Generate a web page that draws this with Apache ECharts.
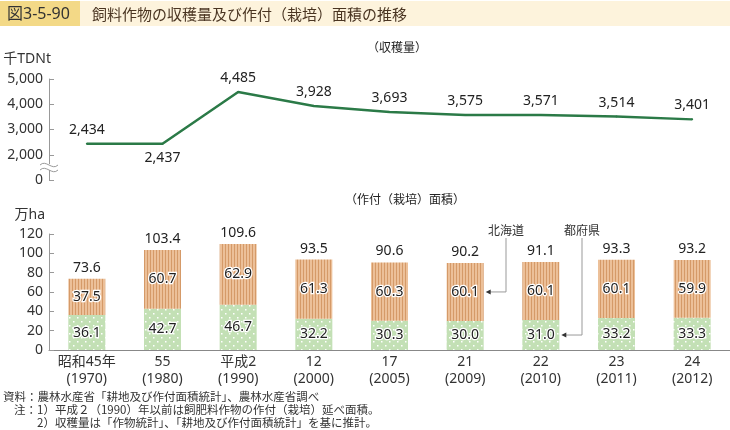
<!DOCTYPE html>
<html><head><meta charset="utf-8">
<script src="https://cdn.jsdelivr.net/npm/echarts@6/dist/echarts.min.js"></script>
<style>html,body{margin:0;padding:0;background:#fff}#c{width:730px;height:430px}</style>
</head><body><div id="c"></div>
<script>
const categories = ['昭和45年\n(1970)', '55\n(1980)', '平成2\n(1990)', '12\n(2000)', '17\n(2005)', '21\n(2009)', '22\n(2010)', '23\n(2011)', '24\n(2012)'];
const harvest = [2434, 2437, 4485, 3928, 3693, 3575, 3571, 3514, 3401];
const prefectures = [36.1, 42.7, 46.7, 32.2, 30.3, 30.0, 31.0, 33.2, 33.3];
const hokkaido = [37.5, 60.7, 62.9, 61.3, 60.3, 60.1, 60.1, 60.1, 59.9];
const totals = [73.6, 103.4, 109.6, 93.5, 90.6, 90.2, 91.1, 93.3, 93.2];
const harvestTicks = [1000, 2000, 3000, 4000, 5000];
const areaTicks = [0, 20, 40, 60, 80, 100, 120];

const FONT = '"Noto Sans", "Noto Sans CJK JP", sans-serif';
const JP = '"Noto Sans CJK JP", sans-serif';

function stripePattern() {
  const c = document.createElement('canvas'); c.width = 3; c.height = 4;
  const g = c.getContext('2d');
  g.fillStyle = '#ecc099'; g.fillRect(0, 0, 3, 4);
  g.fillStyle = '#d59a68'; g.fillRect(0, 0, 1, 4);
  return c;
}
function dotPattern() {
  const c = document.createElement('canvas'); c.width = 8; c.height = 8;
  const g = c.getContext('2d');
  g.fillStyle = '#c3e0b5'; g.fillRect(0, 0, 8, 8);
  g.fillStyle = '#ffffff';
  g.fillRect(1, 1, 1.5, 1.5); g.fillRect(5, 5, 1.5, 1.5);
  return c;
}

const chart = echarts.init(document.getElementById('c'), null, {renderer: 'canvas'});
const inLabel = {show: true, position: 'inside', fontSize: 14, fontFamily: FONT, color: '#222',
  textBorderColor: '#fff', textBorderWidth: 2.5, formatter: p => p.value.toFixed(1)};

chart.setOption({
  animation: false,
  backgroundColor: '#fff',
  title: [
    {text: '（収穫量）', left: 392, top: 36, textAlign: 'center',
     textStyle: {fontSize: 12, fontWeight: 'normal', color: '#222', fontFamily: JP}},
    {text: '（作付（栽培）面積）', left: 400, top: 188, textAlign: 'center',
     textStyle: {fontSize: 12, fontWeight: 'normal', color: '#222', fontFamily: JP}}
  ],
  grid: [
    {left: 49, right: -8, top: 79, bottom: 250},
    {left: 49, right: -8, top: 234, bottom: 80}
  ],
  xAxis: [
    {gridIndex: 0, type: 'category', data: categories, show: false},
    {gridIndex: 1, type: 'category', data: categories,
     axisLine: {lineStyle: {color: '#888', width: 1}}, axisTick: {show: false},
     axisLabel: {fontSize: 14, fontFamily: FONT, color: '#333', lineHeight: 17, margin: 4}}
  ],
  yAxis: [
    {gridIndex: 0, type: 'value', min: 1000, max: 5000, interval: 1000,
     name: '千TDNt', nameLocation: 'end', nameGap: 13,
     nameTextStyle: {align: 'right', fontSize: 14, fontFamily: FONT, color: '#333', padding: [0, -2, 0, 0]},
     axisLine: {show: true, lineStyle: {color: '#999'}},
     axisTick: {show: true, inside: true, length: 5, lineStyle: {color: '#999'}},
     splitLine: {show: false},
     axisLabel: {fontSize: 14, fontFamily: FONT, color: '#333', margin: 6,
       formatter: v => harvestTicks.indexOf(v) === 0 ? '0' : v.toLocaleString('en-US')}},
    {gridIndex: 1, type: 'value', min: 0, max: 120, interval: 20,
     name: '万ha', nameLocation: 'end', nameGap: 12,
     nameTextStyle: {align: 'right', fontSize: 14, fontFamily: FONT, color: '#333', padding: [0, 4, 0, 0]},
     axisLine: {show: true, lineStyle: {color: '#999'}},
     axisTick: {show: true, inside: true, length: 5, lineStyle: {color: '#999'}},
     splitLine: {show: false},
     axisLabel: {fontSize: 14, fontFamily: FONT, color: '#333', margin: 6}}
  ],
  series: [
    {type: 'line', xAxisIndex: 0, yAxisIndex: 0, data: harvest.map((v, i) => ({
        value: v, label: {position: i === 1 ? 'bottom' : 'top'}})),
     symbol: 'circle', symbolSize: 2, showSymbol: true, itemStyle: {color: '#2b7a47'},
     lineStyle: {color: '#2b7a47', width: 2.5},
     label: {show: true, fontSize: 14, fontFamily: FONT, color: '#222', distance: 6,
       formatter: p => p.value.toLocaleString('en-US')}},
    {name: '都府県', type: 'bar', xAxisIndex: 1, yAxisIndex: 1, stack: 'a', barWidth: 37,
     data: prefectures, itemStyle: {color: {image: dotPattern(), repeat: 'repeat'}}, label: inLabel},
    {name: '北海道', type: 'bar', xAxisIndex: 1, yAxisIndex: 1, stack: 'a', barWidth: 37,
     data: hokkaido, itemStyle: {color: {image: stripePattern(), repeat: 'repeat'}}, label: inLabel},
    {name: 'total', type: 'bar', xAxisIndex: 1, yAxisIndex: 1, stack: 'a', barWidth: 37,
     data: totals.map(() => 0), itemStyle: {color: 'transparent'},
     label: {show: true, position: 'top', distance: 4, fontSize: 14, fontFamily: FONT, color: '#222',
       formatter: p => totals[p.dataIndex].toFixed(1)}}
  ]
});

const base = [
  {type: 'rect', shape: {x: 0, y: 1, width: 80, height: 25}, style: {fill: '#f3d987'}},
  {type: 'rect', shape: {x: 80, y: 1, width: 650, height: 25}, style: {fill: '#fdf3dc'}},
  {type: 'text', x: 7, y: 14, z: 10, style: {text: '図3-5-90', fontSize: 16, fontFamily: FONT, fill: '#333', verticalAlign: 'middle'}},
  {type: 'text', x: 92, y: 14, z: 10, style: {text: '飼料作物の収穫量及び作付（栽培）面積の推移', fontSize: 15, fontFamily: JP, fill: '#4a3522', verticalAlign: 'middle'}},
  {type: 'rect', shape: {x: 46, y: 164, width: 6, height: 6}, style: {fill: '#fff'}, z: 50},
  {type: 'bezierCurve', shape: {x1: 40, y1: 165, x2: 58, y2: 165, cpx1: 46, cpy1: 159, cpx2: 52, cpy2: 171},
   style: {stroke: '#999', fill: null, lineWidth: 1}, z: 51},
  {type: 'bezierCurve', shape: {x1: 40, y1: 170, x2: 58, y2: 170, cpx1: 46, cpy1: 164, cpx2: 52, cpy2: 176},
   style: {stroke: '#999', fill: null, lineWidth: 1}, z: 51},
  {type: 'text', x: 3, y: 397, style: {text: '資料：農林水産省「耕地及び作付面積統計」、農林水産省調べ', fontSize: 11.5, fontFamily: JP, fill: '#333', verticalAlign: 'middle'}},
  {type: 'text', x: 14, y: 410, style: {text: '注：1）平成２（1990）年以前は飼肥料作物の作付（栽培）延べ面積。', fontSize: 11.5, fontFamily: JP, fill: '#333', verticalAlign: 'middle'}},
  {type: 'text', x: 37, y: 423, style: {text: '2）収穫量は「作物統計」、「耕地及び作付面積統計」を基に推計。', fontSize: 11.5, fontFamily: JP, fill: '#333', verticalAlign: 'middle'}}
];

// annotation arrows placed via the chart's own scales
function arrow(idx, yVal, lx, text) {
  const p = chart.convertToPixel({gridIndex: 1}, [idx, yVal]);
  const tipX = p[0] + 18.5 + 2;
  return [
    {type: 'text', x: lx, y: 230, style: {text: text, fontSize: 12, fontFamily: JP, fill: '#333', align: 'center', verticalAlign: 'middle'}},
    {type: 'polyline', shape: {points: [[lx, 238], [lx, p[1]], [tipX + 3, p[1]]]}, style: {stroke: '#999', lineWidth: 1, fill: null}},
    {type: 'polygon', shape: {points: [[tipX, p[1]], [tipX + 5, p[1] - 2.5], [tipX + 5, p[1] + 2.5]]}, style: {fill: '#333'}}
  ];
}
chart.setOption({graphic: base.concat(
  arrow(5, prefectures[5] + hokkaido[5] / 2, 506, '北海道'),
  arrow(6, prefectures[6] / 2, 582, '都府県')
)});
</script></body></html>
